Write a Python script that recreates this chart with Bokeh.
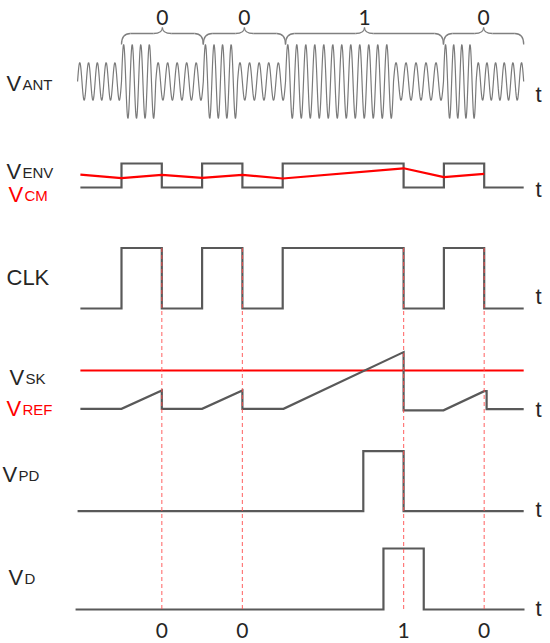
import numpy as np
from bokeh.plotting import figure
from bokeh.models import Range1d
from bokeh.embed import file_html
from bokeh.resources import INLINE
from bokeh.core.properties import value

# ---------------- data (time in half-bit units) ----------------
bit_labels = ["0", "0", "1", "0"]
bit_edges = [0.0, 2.03, 4.07, 7.99, 9.98]

ant_seg_start = [-1.09, 0.0, 0.85, 2.03, 2.88, 4.07, 6.75, 7.99, 8.8]
ant_seg_end = [0.0, 0.85, 2.03, 2.88, 4.07, 6.75, 7.99, 8.8, 9.98]
ant_amp = [0.51, 1.0, 0.51, 1.0, 0.51, 1.0, 0.51, 1.0, 0.51]
ant_cycles = [5, 4, 5, 4, 5, 12, 5, 4, 5.5]

env_t = [-1.02, 0, 1, 2, 3, 4, 7, 8, 9, 9.98]
env_v = [0, 1, 0, 1, 0, 1, 0, 1, 0]
vcm_t = [-1.02, 0, 1, 2, 3, 4, 7, 8, 9]
vcm_v = [0.54, 0.39, 0.53, 0.40, 0.53, 0.375, 0.80, 0.43, 0.57]

clk_t = [-1.02, 0, 1, 2, 3, 4, 7, 8, 9, 9.98]
clk_v = [0, 1, 0, 1, 0, 1, 0, 1, 0]

vsk_t = [-1.02, 9.98]
vsk_level = 1.0
vref_t = [-1.02, 0, 1, 1, 2, 3, 3, 4.02, 7, 7, 7.99, 9.0, 9.06, 9.06, 9.98]
vref_v = [0, 0, 0.48, 0, 0, 0.48, 0, 0, 1.48, -0.04, -0.04, 0.46, 0.46, -0.01, -0.01]

vpd_t = [-1.09, 6.0, 7.0, 9.98]
vpd_v = [0, 1, 0]
vd_t = [-1.14, 6.5, 7.5, 10.0]
vd_v = [0, 1, 0]

decision_t = [1, 3, 7, 9]
decision_bits = ["0", "0", "1", "0"]

# ---------------- layout helpers ----------------
X0, XS = 121.0, 40.3          # pixel of t=0, pixels per unit
TY = -6                       # text baseline correction


def X(px):
    return (px - X0) / XS


def step(edges, vals):
    xs, ys = [], []
    for i, v in enumerate(vals):
        xs += [edges[i], edges[i + 1]]
        ys += [v, v]
    return xs, ys


def row(vals, base, scale):
    return [base - v * scale for v in vals]


GREY = "#595959"
RED = "#ff0000"
TXT = "#262626"
LAB = value("Liberation Sans")
DIG = value("Lato")

W, H = 550, 643
p = figure(width=W, height=H, output_backend="svg", toolbar_location=None,
           x_range=Range1d(X(0), X(W)), y_range=Range1d(H, 0),
           x_axis_location=None, y_axis_location=None, min_border=0)
p.grid.visible = False
p.outline_line_color = None
p.background_fill_color = "white"

# ---------------- V_ANT ----------------
tt, yy = [], []
for s, e, a, c in zip(ant_seg_start, ant_seg_end, ant_amp, ant_cycles):
    t = np.linspace(s, e, int(c * 24) + 2)
    tt.append(t)
    yy.append(a * np.sin(2 * np.pi * c * (t - s) / (e - s)))
tt = np.concatenate(tt)
yy = np.concatenate(yy)
p.line(tt, row(yy, 81, 37), line_color="#7a7a7a", line_width=1.2)

# braces
r = 0.22
yb, ye, yt = 33, 44, 27
for i, lab in enumerate(bit_labels):
    x0, x1 = bit_edges[i], bit_edges[i + 1]
    xm = (x0 + x1) / 2
    p.quadratic(x0=[x0, xm - r, xm, x1 - r], y0=[ye, yb, yt, yb],
                x1=[x0 + r, xm, xm + r, x1], y1=[yb, yt, yb, ye],
                cx=[x0, xm, xm, x1], cy=[yb, yb, yb, yb],
                line_color="#808080", line_width=1.3)
    p.segment(x0=[x0 + r, xm + r], y0=[yb, yb], x1=[xm - r, x1 - r], y1=[yb, yb],
              line_color="#808080", line_width=1.3)
    p.text(x=[xm], y=[23 + TY], text=[lab], text_font=DIG, text_font_size="21px",
           text_align="center", text_baseline="alphabetic", text_color=TXT)

# ---------------- V_ENV / V_CM ----------------
xs, ys = step(env_t, env_v)
p.line(xs, row(ys, 187, 24), line_color=GREY, line_width=2.2, line_join="miter")
p.line(vcm_t, row(vcm_v, 187, 24), line_color=RED, line_width=2.2)

# ---------------- CLK ----------------
xs, ys = step(clk_t, clk_v)
p.line(xs, row(ys, 308, 60.5), line_color=GREY, line_width=2.2, line_join="miter")

# ---------------- V_SK / V_REF ----------------
p.line(vsk_t, row([vsk_level, vsk_level], 408.3, 38.3), line_color=RED, line_width=2.2)
p.line(vref_t, row(vref_v, 408.3, 38.3), line_color=GREY, line_width=2.2, line_join="miter")

# ---------------- V_PD ----------------
xs, ys = step(vpd_t, vpd_v)
p.line(xs, row(ys, 510.7, 60), line_color=GREY, line_width=2.2, line_join="miter")

# ---------------- V_D ----------------
xs, ys = step(vd_t, vd_v)
p.line(xs, row(ys, 609, 61), line_color=GREY, line_width=2.2, line_join="miter")

# decision lines
p.segment(x0=decision_t, y0=[247.5] * 4, x1=decision_t, y1=[609] * 4,
          line_color="#ff4d4d", line_alpha=0.75, line_width=1.2, line_dash="4 3")
p.text(x=decision_t, y=[636 + TY] * 4, text=decision_bits, text_font=DIG,
       text_font_size="21px", text_align="center", text_baseline="alphabetic",
       text_color=TXT)

# ---------------- labels ----------------
def vlabel(px, base, sub, color, subdx):
    p.text(x=[X(px)], y=[base + TY], text=["V"], text_font=LAB, text_font_size="22px",
           text_baseline="alphabetic", text_color=color)
    p.text(x=[X(px + subdx)], y=[base + 1 + TY], text=[sub], text_font=LAB,
           text_font_size="15px", text_baseline="alphabetic", text_color=color)

vlabel(6, 89, "ANT", TXT, 16)
vlabel(6, 177, "ENV", TXT, 16)
vlabel(8, 200, "CM", RED, 16)
vlabel(9, 383, "SK", TXT, 16)
vlabel(6, 414, "REF", RED, 16)
vlabel(2, 480, "PD", TXT, 16)
vlabel(8, 583, "D", TXT, 16)
p.text(x=[X(6)], y=[283 + TY], text=["CLK"], text_font=LAB, text_font_size="22px",
       text_baseline="alphabetic", text_color=TXT)

for yb_ in [100, 195, 302, 415, 515, 614]:
    p.text(x=[X(538)], y=[yb_ + TY], text=["t"], text_font=LAB, text_font_size="22px",
           text_align="center", text_baseline="alphabetic", text_color=TXT)

open("out.html", "w").write(file_html(p, INLINE))
